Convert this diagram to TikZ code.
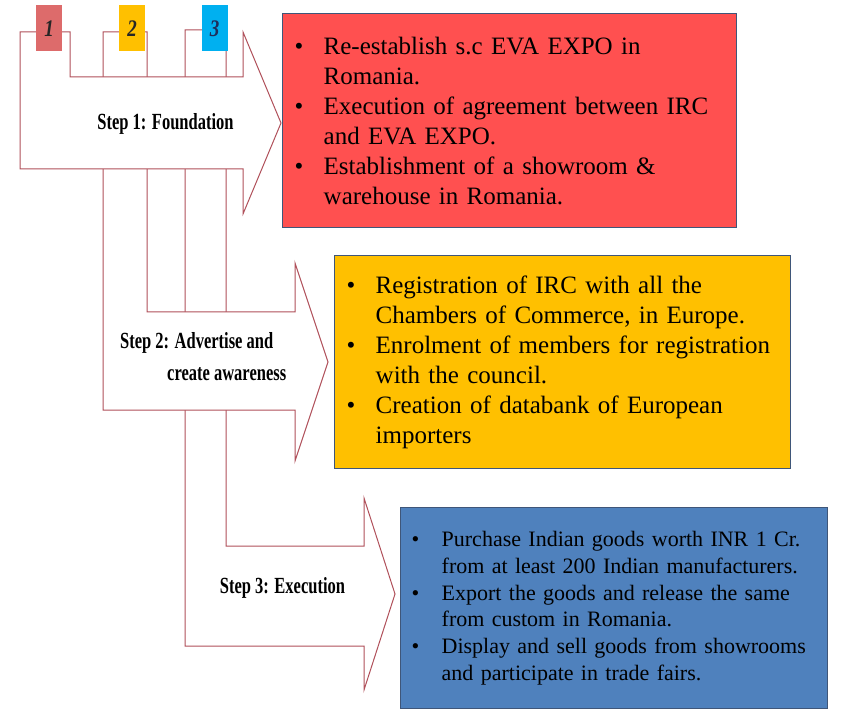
\documentclass[tikz,border=0pt]{standalone}
\usepackage{fontspec}
\setmainfont{Liberation Serif}
\usetikzlibrary{positioning}

\definecolor{arrowline}{HTML}{B0505A}
\definecolor{redbox}{HTML}{FF5050}
\definecolor{yellowbox}{HTML}{FFC000}
\definecolor{bluebox}{HTML}{4F81BD}
\definecolor{boxline}{HTML}{3F5679}
\definecolor{numred}{HTML}{DD6B6B}
\definecolor{numblue}{HTML}{00B0F0}
\definecolor{numnavy}{HTML}{1F2D5A}

\newcommand{\tall}[2][1.4]{\scalebox{1}[#1]{#2}}
\newcommand{\bpt}[2][29pt]{\noindent\makebox[#1][l]{\textbullet}\mbox{#2}\par}
\newcommand{\cpt}[2][29pt]{\noindent\hspace*{#1}\mbox{#2}\par}

\begin{document}
\begin{tikzpicture}[x=1pt, y=-1pt,
   stepshape/.style={draw=arrowline, line width=1pt, fill=white, line join=miter},
   numbox/.style={minimum width=26pt, minimum height=46pt, inner sep=0pt,
      font=\fontsize{19}{19}\selectfont\bfseries\itshape, text=black!85},
   infobox/.style={draw=boxline, line width=1.4pt, anchor=north west, inner ysep=0pt},
   steplabel/.style={font=\fontsize{16.5}{32}\selectfont\bfseries, inner sep=0pt}]
   \useasboundingbox (0,0) rectangle (863,714);
   % the three bent arrows, back to front
   \draw[stepshape] (185,30) -- (226,30) -- (226,546) -- (364,546) -- (364,498)
      -- (395,594) -- (364,690) -- (364,646) -- (185,646) -- cycle;
   \draw[stepshape] (103,32) -- (147,32) -- (147,312) -- (295,312) -- (295,263)
      -- (328,362) -- (295,461) -- (295,410) -- (103,410) -- cycle;
   \draw[stepshape] (20,32) -- (70,32) -- (70,77) -- (243,77) -- (243,32)
      -- (281,123) -- (243,214) -- (243,169) -- (20,169) -- cycle;
   \node[numbox, fill=numred] (num1) at (49,28.5) {\tall[1.25]{1}};
   \node[numbox, fill=yellowbox] (num2) at (132,28.5) {\tall[1.25]{2}};
   \node[numbox, fill=numblue, text=numnavy] (num3) at (214.5,28.5) {\tall[1.25]{3}};
   \node[steplabel, anchor=base] (step1) at (165.5,129.5) {\tall{Step 1: Foundation}};
   \node[steplabel, anchor=north west, align=left] (step2) at (120,332)
      {\tall{Step 2: Advertise and}\\\hspace*{47pt}\tall{create awareness}};
   \node[steplabel, anchor=base] (step3) at (282.5,593) {\tall{Step 3: Execution}};
   % what each step does
   \node[infobox, fill=redbox, minimum height=214pt, text width=430pt, inner xsep=12pt,
      font=\fontsize{25}{30}\selectfont] (found) at (282,13) {
      \bpt{Re-establish s.c EVA EXPO in}
      \cpt{Romania.}
      \bpt{Execution of agreement between IRC}
      \cpt{and EVA EXPO.}
      \bpt{Establishment of a showroom \&}
      \cpt{warehouse in Romania.}};
   \node[infobox, fill=yellowbox, minimum height=213pt, text width=432pt, inner xsep=12pt,
      font=\fontsize{25}{30}\selectfont] (advert) at (334,255) {
      \bpt{Registration of IRC with all the}
      \cpt{Chambers of Commerce, in Europe.}
      \bpt{Enrolment of members for registration}
      \cpt{with the council.}
      \bpt{Creation of databank of European}
      \cpt{importers}};
   \node[infobox, fill=bluebox, minimum height=201pt, text width=405pt, inner xsep=11pt,
      font=\fontsize{22}{26.8}\selectfont] (exec) at (400,507) {
      \bpt[30pt]{Purchase Indian goods worth INR 1 Cr.}
      \cpt[30pt]{from at least 200 Indian manufacturers.}
      \bpt[30pt]{Export the goods and release the same}
      \cpt[30pt]{from custom in Romania.}
      \bpt[30pt]{Display and sell goods from showrooms}
      \cpt[30pt]{and participate in trade fairs.}};
\end{tikzpicture}
\end{document}
